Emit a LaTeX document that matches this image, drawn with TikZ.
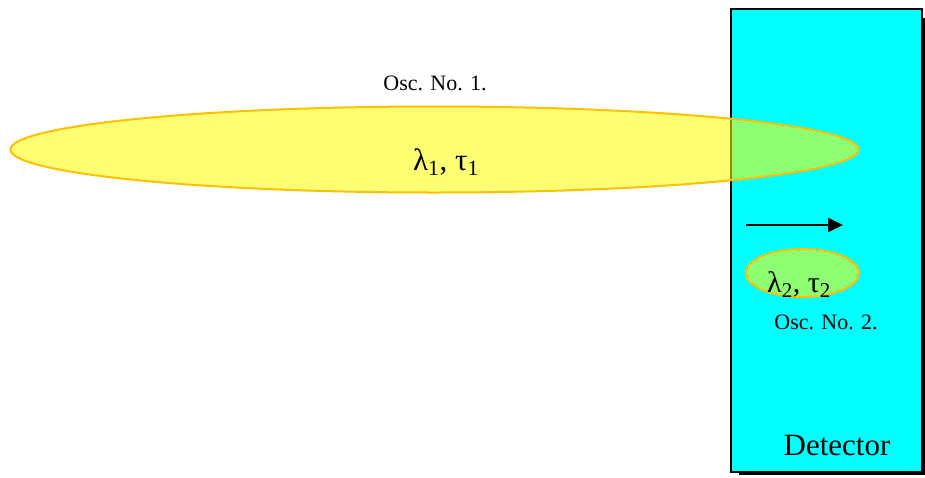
\documentclass[tikz,border=0pt]{standalone}
\usepackage{fontspec}
\setmainfont{Liberation Serif}
\usetikzlibrary{shapes.geometric,arrows.meta}
\definecolor{oscfill}{RGB}{255,255,0}
\definecolor{oscedge}{RGB}{255,192,0}
\definecolor{detcyan}{RGB}{0,255,255}
\tikzset{
  osc/.style={ellipse, draw=oscedge, line width=2pt, fill=oscfill, fill opacity=0.55, text opacity=1, inner sep=0pt},
  lbl/.style={font=\fontsize{22}{26}\selectfont, inner sep=0pt, anchor=base},
}
\begin{document}
\begin{tikzpicture}[x=1pt,y=-1pt]
\useasboundingbox (0,0) rectangle (925,477);
% shadow
\fill[black] (739,18) rectangle (925,475);
\node[draw=black, line width=2pt, fill=detcyan, minimum width=191pt, minimum height=463pt, inner sep=0pt] (det) at (826.5,240.5) {};
\node[osc, minimum width=848pt, minimum height=86pt] (osc1) at (434.5,149.5) {};
\node[osc, minimum width=113pt, minimum height=48pt] (osc2) at (802.5,273) {};
\node[lbl] (t1) at (435,90.5) {Osc. No. 1.};
\node[font=\fontsize{31}{34}\selectfont, inner sep=0pt, anchor=base] (l1) at (446,170) {λ\textsubscript{1}, τ\textsubscript{1}};
\node[font=\fontsize{30}{34}\selectfont, inner sep=0pt, anchor=base] (l2) at (799,292) {λ\textsubscript{2}, τ\textsubscript{2}};
\node[lbl] (t2) at (826,329) {Osc. No. 2.};
\node[font=\fontsize{31}{36}\selectfont, inner sep=0pt, anchor=base] (dl) at (837,455) {Detector};
\coordinate (a1) at (746,225);
\coordinate (a2) at (843,225);
\draw[line width=1.5pt, -{Triangle[length=15pt,width=14pt]}] (a1) -- (a2);
\end{tikzpicture}
\end{document}
